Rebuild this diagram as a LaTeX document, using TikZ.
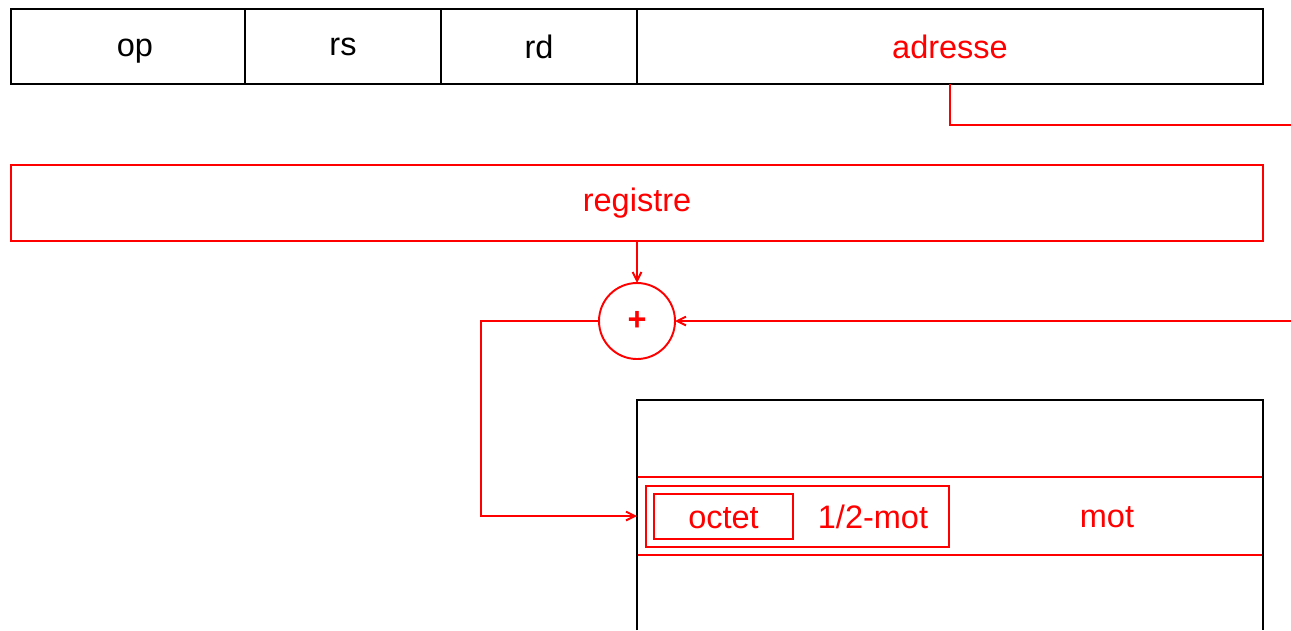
\documentclass[tikz,border=0pt]{standalone}
\usepackage{fontspec}
\setmainfont{Liberation Sans}
\usetikzlibrary{arrows.meta,positioning}
\newcommand{\px}{0.02cm}
\tikzset{
  field/.style={draw=black,line width=1.1pt,inner sep=0pt,outer sep=0pt,minimum height=75*\px},
  redfield/.style={draw=red,line width=1.1pt,inner sep=0pt,outer sep=0pt,text=red},
  red label/.style={text=red,inner sep=0pt},
  red link/.style={draw=red,line width=1.1pt},
  red arrow/.style={red link,-{Straight Barb[length=5pt,width=5pt]}}
}

\begin{document}
\begin{tikzpicture}[x=\px,y=-\px,line cap=butt,line join=miter,font=\fontsize{18.5}{22}\selectfont]
  \useasboundingbox (0,0) rectangle (1291,630);

  % instruction fields
  \node[field,minimum width=234*\px] (op) at (128,46.5) {};
  \node[inner sep=0pt] (oplabel) at (135,51.5) {op};
  \node[field,minimum width=196*\px] (rs) at (343,46.5) {rs};
  \node[field,minimum width=196*\px] (rd) at (539,46.5) {rd};
  \node[field,minimum width=626*\px,text=red] (adresse) at (950,46.5) {adresse};

  % base register and adder
  \node[redfield,minimum width=1252*\px,minimum height=76*\px] (registre) at (637,203) {registre};
  \node[redfield,circle,minimum size=76*\px] (plus) at (637,321) {\textbf{+}};

  % memory
  \node[redfield,minimum width=626*\px,minimum height=78*\px] (mot) at (950,516) {};
  \draw[black,line width=1.1pt] (637,630) -- (637,400) -- (1263,400) -- (1263,630);
  \node[redfield,minimum width=303*\px,minimum height=61*\px] (demimot) at (797.5,516.5) {};
  \node[redfield,minimum width=139*\px,minimum height=45*\px] (octet) at (723.5,516.5) {};
  \node[red label] (octetlabel) at (723.5,518) {octet};
  \node[red label] (demimotlabel) at (873,517) {1/2-mot};
  \node[red label] (motlabel) at (1107,517) {mot};

  \coordinate (out1) at (1291,125);
  \coordinate (in1) at (1291,321);
  \coordinate (turn) at (481,321);

  \draw[red link] (adresse.south) |- (out1);
  \draw[red arrow] (in1) -- (plus.east);
  \draw[red arrow] (registre.south) -- (plus.north);
  \draw[red arrow] (plus.west) -- (turn) |- (mot.west);
\end{tikzpicture}
\end{document}
